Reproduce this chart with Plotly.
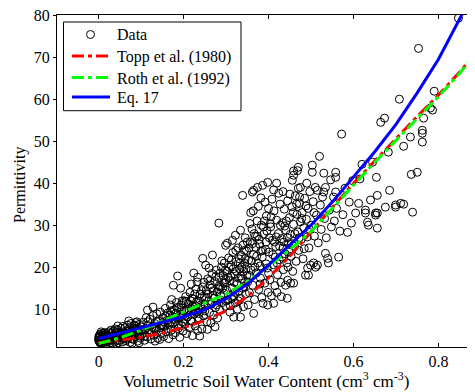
import plotly.graph_objects as go

data_pairs = [
    (0.000,2.6),(0.002,3.1),(0.004,2.2),(0.001,3.6),(0.006,2.9),(0.008,3.4),(0.003,4.0),(0.010,2.5),
    (0.012,3.0),(0.005,1.9),(0.014,3.7),(0.009,4.3),(0.016,2.7),(0.018,3.3),(0.007,2.4),(0.011,3.9),
    (0.013,2.1),(0.015,4.4),(0.019,2.9),(0.002,3.3),(0.017,3.8),(0.020,2.3),
    (0.022,3.1),(0.025,2.4),(0.028,4.2),(0.030,3.5),(0.032,2.0),(0.035,4.8),(0.037,2.9),(0.040,3.8),
    (0.042,1.8),(0.044,5.1),(0.046,3.2),(0.048,4.4),(0.050,2.6),(0.052,5.4),(0.054,3.7),(0.056,2.2),
    (0.058,4.6),(0.060,3.0),(0.024,4.6),(0.034,1.6),(0.039,5.3),(0.047,2.0),(0.053,4.0),(0.027,2.0),(0.045,6.0),
    (0.062,5.6),(0.064,2.5),(0.066,4.1),(0.068,6.2),(0.070,3.3),(0.072,5.0),(0.074,2.1),(0.076,6.6),
    (0.078,3.9),(0.080,4.7),(0.082,2.8),(0.084,6.0),(0.086,3.5),(0.088,5.4),(0.090,7.0),(0.092,2.4),
    (0.094,4.4),(0.096,6.4),(0.098,3.1),(0.100,5.8),(0.071,7.2),(0.079,1.9),(0.087,6.8),(0.095,2.0),(0.065,4.8),
    (0.003,2.0),(0.006,4.6),(0.012,1.8),(0.021,3.6),(0.029,5.0),(0.036,3.9),(0.043,2.5),(0.051,3.4),
    (0.057,5.9),(0.063,3.7),(0.069,2.9),(0.075,4.4),(0.081,5.5),(0.089,4.0),(0.093,5.1),(0.097,3.6),
    (0.000,3.2),(0.001,2.4),(0.004,3.7),(0.008,2.0),(0.009,2.7),(0.013,3.5),(0.015,2.5),(0.018,4.1),
    (0.023,2.7),(0.026,3.4),(0.031,4.4),(0.033,2.7),(0.038,3.2),(0.041,4.6),(0.049,3.6),(0.055,3.1),
    (0.059,4.0),(0.061,4.3),(0.067,3.6),(0.073,5.7),(0.077,3.0),(0.083,4.1),(0.085,6.2),(0.091,4.8),(0.099,5.0),
    (0.102,4.0),(0.105,6.9),(0.108,2.6),(0.110,5.2),(0.112,8.0),(0.114,3.4),(0.117,6.1),(0.119,4.5),
    (0.121,7.6),(0.123,2.9),(0.126,5.7),(0.128,8.5),(0.130,3.8),(0.132,6.6),(0.135,4.9),(0.137,8.9),
    (0.139,3.1),(0.141,7.2),(0.143,5.5),(0.145,9.3),(0.147,4.2),(0.149,6.3),(0.115,9.8),(0.128,10.5),
    (0.133,2.4),(0.144,2.8),
    (0.104,5.0),(0.109,3.6),(0.116,7.0),(0.124,4.6),(0.131,5.4),(0.138,7.0),(0.146,6.0),(0.154,7.0),
    (0.162,5.4),(0.168,8.6),(0.174,6.6),(0.182,9.0),(0.188,6.4),(0.196,9.8),
    (0.151,8.0),(0.153,3.5),(0.155,5.9),(0.157,10.2),(0.159,4.6),(0.161,7.3),(0.163,9.1),(0.165,3.0),
    (0.167,6.4),(0.169,11.0),(0.171,5.0),(0.173,8.3),(0.175,3.9),(0.177,9.8),(0.179,6.9),(0.181,4.4),
    (0.183,11.6),(0.185,7.8),(0.187,5.4),(0.189,10.4),(0.191,3.3),(0.193,8.8),(0.195,6.1),(0.197,12.0),
    (0.199,4.8),(0.176,15.7),(0.186,17.9),(0.193,15.0),(0.172,12.3),
    (0.152,6.0),(0.158,8.4),(0.164,6.8),(0.170,9.6),(0.178,7.6),(0.184,10.4),(0.190,8.0),(0.194,11.0),
    (0.198,7.0),(0.202,12.0),(0.208,9.8),(0.214,8.6),(0.216,12.0),(0.222,10.6),(0.226,13.6),(0.230,11.6),
    (0.234,8.0),(0.240,11.0),(0.242,14.4),(0.246,10.0),(0.248,16.4),
    (0.201,9.6),(0.203,6.6),(0.205,13.0),(0.207,4.2),(0.209,8.1),(0.211,11.3),(0.213,5.6),(0.215,14.0),
    (0.217,7.2),(0.219,10.1),(0.221,3.7),(0.223,12.4),(0.225,8.8),(0.227,6.0),(0.229,14.8),(0.231,9.5),
    (0.233,4.9),(0.235,11.9),(0.237,7.7),(0.239,13.6),(0.241,10.6),(0.243,5.3),(0.245,15.3),(0.247,8.4),
    (0.249,12.8),(0.206,11.8),(0.218,16.0),(0.232,16.5),(0.224,18.6),(0.233,17.6),(0.245,22.1),(0.238,3.6),
    (0.204,7.6),(0.212,10.0),(0.220,12.6),(0.228,10.8),(0.236,9.0),(0.244,13.0),(0.250,9.6),(0.258,13.6),
    (0.266,15.0),(0.272,12.6),(0.278,11.0),(0.284,15.6),(0.288,13.0),(0.294,16.4),(0.298,19.2),
    (0.251,10.9),(0.253,14.4),(0.255,7.0),(0.257,17.2),(0.259,12.0),(0.261,9.2),(0.263,15.8),(0.265,11.2),
    (0.267,18.5),(0.269,13.3),(0.271,8.6),(0.273,16.6),(0.275,10.4),(0.277,19.3),(0.279,14.1),(0.281,12.1),
    (0.283,17.5),(0.285,9.9),(0.287,15.2),(0.289,20.0),(0.291,11.6),(0.293,18.0),(0.295,13.8),(0.297,16.2),
    (0.299,10.7),(0.256,5.2),(0.274,5.8),(0.264,6.7),(0.280,7.9),(0.268,22.9),(0.283,30.5),(0.299,25.2),
    (0.290,21.5),(0.260,19.8),(0.252,20.5),
    (0.254,12.8),(0.262,16.8),(0.270,14.4),(0.276,17.8),(0.282,14.8),(0.286,18.6),(0.292,15.0),(0.296,21.0),
    (0.300,17.0),(0.307,20.0),(0.317,19.6),(0.321,14.0),(0.323,24.0),(0.329,17.4),(0.333,21.0),(0.339,15.0),
    (0.341,19.0),(0.345,22.0),(0.350,26.0),(0.300,12.0),(0.313,12.6),(0.329,12.0),
    (0.301,14.6),(0.302,19.0),(0.304,12.2),(0.306,22.2),(0.308,16.8),(0.310,10.8),(0.312,20.4),(0.314,15.0),
    (0.316,23.5),(0.318,13.0),(0.320,18.4),(0.322,11.5),(0.324,21.3),(0.326,16.0),(0.328,24.6),(0.330,14.2),
    (0.332,19.6),(0.334,12.6),(0.336,22.8),(0.338,17.2),(0.340,25.3),(0.342,15.4),(0.344,20.9),(0.346,13.6),
    (0.348,23.9),(0.349,18.1),(0.303,25.7),(0.315,26.4),(0.322,27.6),(0.334,28.8),(0.339,37.1),(0.318,8.1),
    (0.334,8.1),(0.327,10.0),(0.341,10.6),(0.309,9.3),(0.345,27.0),(0.311,17.8),(0.337,20.0),
    (0.305,17.6),(0.313,21.8),(0.319,16.4),(0.325,19.0),(0.331,22.0),(0.335,17.9),(0.343,24.0),(0.347,19.6),
    (0.351,16.5),(0.353,21.7),(0.355,13.9),(0.357,26.0),(0.359,19.3),(0.361,29.1),(0.363,15.7),(0.365,23.0),
    (0.367,12.3),(0.369,27.3),(0.371,18.6),(0.373,31.0),(0.375,21.0),(0.377,14.7),(0.379,25.5),(0.381,17.4),
    (0.383,30.0),(0.385,22.4),(0.387,11.4),(0.389,27.9),(0.391,16.2),(0.393,24.2),(0.395,32.2),(0.397,19.8),
    (0.399,14.0),(0.358,33.0),(0.376,34.5),(0.392,35.5),(0.362,37.9),(0.365,38.3),(0.374,39.0),(0.386,39.5),
    (0.398,40.2),(0.365,9.0),(0.384,12.8),(0.356,30.4),(0.370,24.7),(0.380,20.3),(0.396,28.6),(0.352,11.0),
    (0.354,24.6),(0.360,21.5),(0.366,28.0),(0.372,22.6),(0.378,26.6),(0.382,23.8),(0.388,29.6),(0.394,20.8),
    (0.356,18.0),(0.362,25.6),(0.368,20.0),(0.374,27.4),(0.380,16.0),(0.386,24.0),(0.390,31.0),(0.394,26.0),
    (0.400,18.6),(0.406,32.0),(0.414,26.0),(0.420,21.0),(0.428,30.0),(0.434,24.6),(0.442,31.0),(0.446,20.0),
    (0.454,25.6),(0.458,33.0),(0.462,28.0),(0.466,35.0),(0.472,27.0),(0.478,31.6),(0.484,24.4),(0.488,34.6),
    (0.496,29.0),(0.364,33.4),(0.382,36.5),(0.400,34.0),(0.412,38.4),(0.434,38.0),(0.450,37.4),(0.444,12.6),
    (0.420,14.0),(0.398,11.0),
    (0.401,23.6),(0.403,17.0),(0.405,29.6),(0.407,13.2),(0.409,26.4),(0.411,20.6),(0.413,33.4),(0.415,15.6),
    (0.417,24.9),(0.419,31.2),(0.421,18.2),(0.423,28.0),(0.425,21.8),(0.427,35.0),(0.429,16.4),(0.431,26.8),
    (0.433,30.6),(0.435,19.4),(0.437,33.8),(0.439,23.2),(0.441,28.8),(0.443,21.0),(0.445,35.8),(0.447,25.6),
    (0.449,31.8),(0.419,40.0),(0.412,11.4),(0.440,15.7),(0.445,16.9),(0.430,13.0),(0.408,36.2),(0.424,37.6),
    (0.436,26.0),(0.416,22.4),(0.402,27.0),
    (0.404,30.4),(0.410,23.0),(0.418,27.2),(0.426,25.0),(0.432,22.4),(0.438,29.8),(0.444,27.0),(0.448,23.6),
    (0.451,27.8),(0.453,22.6),(0.455,34.4),(0.457,19.0),(0.459,30.2),(0.461,25.0),(0.463,37.0),(0.465,21.4),
    (0.467,32.6),(0.469,28.4),(0.471,24.0),(0.473,35.2),(0.475,30.8),(0.477,26.6),(0.479,33.0),(0.481,22.0),
    (0.483,29.4),(0.485,36.4),(0.487,18.1),(0.489,31.4),(0.491,27.2),(0.493,34.0),(0.495,24.6),(0.497,38.0),
    (0.499,20.5),(0.452,16.2),(0.459,16.2),(0.494,18.1),(0.492,19.8),(0.456,40.7),(0.459,41.9),(0.468,43.0),
    (0.470,43.8),(0.470,38.8),(0.473,36.7),(0.475,39.0),(0.490,40.0),(0.459,42.9),
    (0.501,30.0),(0.503,44.3),(0.505,35.6),(0.506,21.0),(0.508,27.4),(0.510,39.0),(0.511,20.0),(0.513,32.4),
    (0.515,38.3),(0.515,20.5),(0.517,25.8),(0.520,46.4),(0.522,34.8),(0.524,29.0),(0.527,36.7),(0.530,42.4),
    (0.530,37.9),(0.532,31.6),(0.534,23.3),(0.534,39.0),(0.536,27.0),(0.539,22.1),(0.541,21.0),(0.543,33.6),
    (0.546,40.8),(0.548,29.6),(0.503,42.6),(0.507,33.0),
    (0.553,36.7),(0.555,31.0),(0.558,37.9),(0.558,42.6),(0.558,41.4),(0.560,34.0),(0.565,22.4),(0.568,28.6),
    (0.572,51.7),(0.575,32.5),(0.580,38.8),(0.586,28.3),(0.590,35.5),(0.595,30.5),(0.598,40.6),
    (0.605,32.9),(0.612,35.2),(0.620,44.5),(0.628,33.6),(0.628,32.9),(0.633,30.7),(0.635,30.0),(0.640,36.0),
    (0.652,32.4),(0.652,32.9),(0.654,41.4),(0.656,32.9),(0.656,29.3),(0.656,37.1),(0.664,54.5),(0.673,55.5),
    (0.675,34.3),(0.682,47.4),(0.685,38.3),(0.699,34.8),(0.699,34.3),(0.615,41.0),(0.645,45.0),
    (0.708,60.0),(0.711,35.2),(0.718,35.0),(0.718,48.8),(0.734,51.0),(0.736,42.1),(0.739,33.1),(0.750,42.6),
    (0.753,72.1),(0.762,52.6),(0.762,51.9),(0.762,49.8),(0.765,55.5),(0.781,57.9),(0.786,57.4),(0.790,61.9),
    (0.847,79.3),
]
theta_obs = [p[0] for p in data_pairs]
eps_obs = [p[1] for p in data_pairs]

# ---- model curves ----
theta_curve = [0.0, 0.05, 0.10, 0.15, 0.20, 0.25, 0.30, 0.35, 0.40, 0.45, 0.50,
               0.55, 0.60, 0.65, 0.70, 0.75, 0.80, 0.85, 0.89]
eps_topp = [2.0, 2.6, 3.3, 4.3, 5.6, 7.3, 9.6, 13.0, 17.5, 22.6, 28.3,
            34.2, 40.0, 45.4, 50.6, 55.9, 61.0, 66.5, 71.3]
eps_roth = [1.8, 3.2, 5.0, 7.2, 9.4, 11.5, 13.6, 16.5, 20.2, 24.2, 28.5,
            34.0, 39.6, 45.0, 50.2, 55.5, 60.6, 66.2, 71.2]
theta_eq17 = [0.0, 0.05, 0.10, 0.15, 0.20, 0.25, 0.30, 0.35, 0.40, 0.45, 0.50,
              0.55, 0.60, 0.65, 0.70, 0.75, 0.80, 0.85, 0.87]
eps_eq17 = [3.0, 4.3, 5.5, 6.8, 8.2, 9.9, 12.5, 16.0, 20.5, 25.3, 30.0,
            35.5, 41.5, 47.5, 54.0, 61.5, 69.5, 79.3, 83.0]

x_ticks = [0, 0.2, 0.4, 0.6, 0.8]
x_ticklabels = ["0", "0.2", "0.4", "0.6", "0.8"]
y_ticks = [10, 20, 30, 40, 50, 60, 70, 80]

legend_labels = ["Data", "Topp et al. (1980)", "Roth et al. (1992)", "Eq. 17"]
legend_colors = ["black", "#FF0000", "#00FF00", "#0000FF"]
legend_dashes = [None, "12px,4px,4px,4px", "12px,4px,4px,4px", "solid"]

FONT = "Liberation Serif"
DASHDOT = "12px,4px,4px,4px"

fig = go.Figure()
fig.add_trace(go.Scatter(
    x=theta_obs, y=eps_obs, mode="markers", name=legend_labels[0],
    marker=dict(symbol="circle-open", size=8, color="black", line=dict(width=1, color="black")),
))
fig.add_trace(go.Scatter(
    x=theta_curve, y=eps_topp, mode="lines", name=legend_labels[1],
    line=dict(color=legend_colors[1], width=3, dash=DASHDOT),
))
fig.add_trace(go.Scatter(
    x=theta_curve, y=eps_roth, mode="lines", name=legend_labels[2],
    line=dict(color=legend_colors[2], width=3, dash=DASHDOT),
))
fig.add_trace(go.Scatter(
    x=theta_eq17, y=eps_eq17, mode="lines", name=legend_labels[3],
    line=dict(color=legend_colors[3], width=3),
))

# ---- hand-built legend (paper coordinates of the plot area) ----
# page is offset 8px by the body margin; plot area spans page x 57..475, y 15..347
def px(X):
    return (X - 57) / 418.0

def py(Y):
    return (347 - Y) / 332.0

shapes = [
    dict(type="rect", xref="paper", yref="paper", x0=px(63.5), x1=px(241), y0=py(110.7), y1=py(22),
         line=dict(color="black", width=1), fillcolor="white", layer="above"),
    dict(type="circle", xref="paper", yref="paper", xsizemode="pixel", ysizemode="pixel",
         xanchor=px(90.5), yanchor=py(34.5), x0=-4, x1=4, y0=-4, y1=4,
         line=dict(color="black", width=1), fillcolor="rgba(0,0,0,0)", layer="above"),
]
line_rows = [56.0, 77.5, 97.0]
for i, yy in enumerate(line_rows, start=1):
    shapes.append(dict(type="line", xref="paper", yref="paper", x0=px(72), x1=px(110), y0=py(yy), y1=py(yy),
                       line=dict(color=legend_colors[i], width=3, dash=legend_dashes[i]), layer="above"))

text_rows = [35.0, 57.0, 78.5, 98.0]
annotations = [
    dict(text=lab, xref="paper", yref="paper", x=px(115), y=py(yy), xanchor="left", yanchor="middle",
         showarrow=False, font=dict(family=FONT, size=16, color="black"))
    for lab, yy in zip(legend_labels, text_rows)
]
annotations += [
    dict(text="Volumetric Soil Water Content (cm<sup>3</sup> cm<sup>-3</sup>)",
         xref="paper", yref="paper", x=0.5, y=0, yshift=-33,
         xanchor="center", yanchor="middle", showarrow=False,
         font=dict(family=FONT, size=17, color="black")),
    dict(text="Permittivity", textangle=-90,
         xref="paper", yref="paper", x=0, y=py(185), xshift=-37,
         xanchor="center", yanchor="middle", showarrow=False,
         font=dict(family=FONT, size=16, color="black")),
]

fig.update_layout(
    width=467, height=384,
    margin=dict(l=49, r=0, t=7, b=45, autoexpand=False),
    paper_bgcolor="white", plot_bgcolor="white",
    font=dict(family=FONT, size=16, color="black"),
    showlegend=False,
    xaxis=dict(
        range=[-0.098, 0.886], tickvals=x_ticks, ticktext=x_ticklabels,
        ticks="inside", ticklen=4, tickcolor="black",
        tickfont=dict(family=FONT, size=16), ticklabeloverflow="allow",
        showline=True, linecolor="black", linewidth=1, mirror="ticks",
        showgrid=False, zeroline=False, automargin=False,
    ),
    yaxis=dict(
        range=[1, 80.05], tickvals=y_ticks,
        ticks="outside", ticklen=3, tickcolor="black",
        tickfont=dict(family=FONT, size=16), ticklabeloverflow="allow",
        showline=True, linecolor="black", linewidth=1, mirror=False,
        showgrid=False, zeroline=False, automargin=False,
    ),
    shapes=shapes,
    annotations=annotations,
)

fig.write_html("out.html")
